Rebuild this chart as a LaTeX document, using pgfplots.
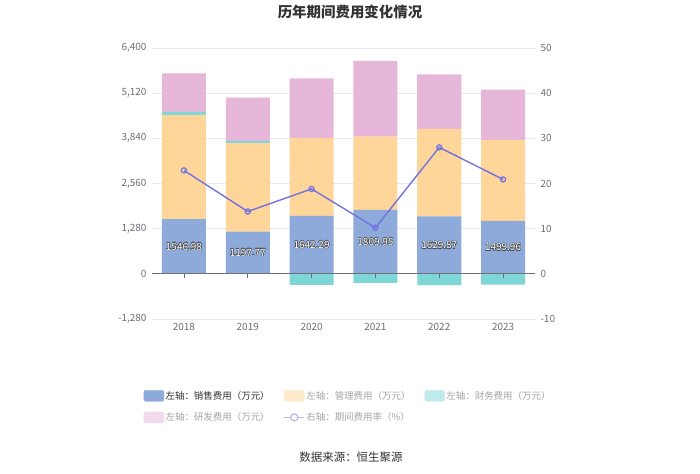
\documentclass[border=0pt]{standalone}
\usepackage{fontspec}
\setmainfont{Noto Sans CJK SC}
\usepackage{pgfplots}
\pgfplotsset{compat=1.18}
\definecolor{salesc}{HTML}{8DAADB}
\definecolor{adminc}{HTML}{FFD699}
\definecolor{finc}{HTML}{7ED7D6}
\definecolor{rdc}{HTML}{E7B7DA}
\definecolor{linec}{HTML}{7272E2}
\definecolor{gridc}{HTML}{E6E9F0}
\definecolor{tickc}{HTML}{6E7079}
\definecolor{axisc}{HTML}{6E7079}
\definecolor{legdark}{HTML}{333333}
\definecolor{leglight}{HTML}{A6A6A6}
\definecolor{adminl}{HTML}{FFEBCC}
\definecolor{finl}{HTML}{BFEBEA}
\definecolor{rdl}{HTML}{F3DBED}
\definecolor{linel}{HTML}{B8B8F0}
\definecolor{outc}{HTML}{4A4A4A}
\newcommand{\oc}[3]{\rlap{\kern#1\raise#2\hbox{\color{outc}#3}}}
\newcommand{\outl}[1]{\hbox{\oc{0.55pt}{0pt}{#1}\oc{-0.55pt}{0pt}{#1}\oc{0pt}{0.55pt}{#1}\oc{0pt}{-0.55pt}{#1}%
\oc{0.4pt}{0.4pt}{#1}\oc{-0.4pt}{0.4pt}{#1}\oc{0.4pt}{-0.4pt}{#1}\oc{-0.4pt}{-0.4pt}{#1}\color{white}#1}}

\begin{document}
\begin{tikzpicture}
\path[use as bounding box, fill=white] (0,0) rectangle (700bp,474bp);
\pgfplotsset{base/.style={at={(152bp,155bp)}, anchor=south west, scale only axis,
  width=383bp, height=271bp, xmin=-0.5, xmax=5.5}}
% main axis: stacked bars
\begin{axis}[base, ymin=-1280, ymax=6400, ybar stacked, bar width=44bp,
  axis y line*=left, axis x line*=bottom, axis line style={draw=none},
  major tick length=0,
  ytick={-1280,0,1280,2560,3840,5120,6400},
  scaled ticks=false,
  ymajorgrids, grid style={color=gridc, line width=0.8bp},
  xtick={0,1,2,3,4,5}, xticklabels={2018,2019,2020,2021,2022,2023},
  tick label style={font=\fontsize{10}{12}\selectfont, text=tickc},
  yticklabel style={xshift=-2bp},
  xticklabel style={yshift=-1bp},
  /pgf/number format/.cd, 1000 sep={,}, assume math mode=true]
\addplot[fill=salesc, draw=none] coordinates {(0,1546.98) (1,1197.77) (2,1642.29) (3,1809.95) (4,1629.87) (5,1499.96)};
\addplot[fill=adminc, draw=none] coordinates {(0,2956) (1,2503) (2,2201) (3,2079) (4,2476) (5,2295)};
\addplot[fill=finc, draw=none] coordinates {(0,85) (1,66) (2,0) (3,0) (4,0) (5,0)};
\addplot[fill=rdc, draw=none] coordinates {(0,1096) (1,1226) (2,1699) (3,2143) (4,1549) (5,1425)};
\end{axis}
% right axis: rate line
\begin{axis}[base, ymin=-10, ymax=50,
  axis y line*=right, axis x line=none, axis line style={draw=none},
  major tick length=0, ytick={-10,0,10,20,30,40,50},
  tick label style={font=\fontsize{10}{12}\selectfont, text=tickc},
  yticklabel style={xshift=2bp},
  /pgf/number format/.cd, assume math mode=true]
\addplot[color=linec, line width=1.4bp, mark=o, mark size=2.6bp,
  mark options={fill=white, line width=1.2bp}] coordinates {(0,22.9) (1,13.8) (2,18.8) (3,10.2) (4,28.0) (5,20.9)};
\end{axis}
% overlay axis: negative bars, labels, zero line, legend
\begin{axis}[base, ymin=-1280, ymax=6400, hide axis, clip=false,
  legend columns=3,
  legend style={draw=none, fill=none, at={(-0.03,-0.252)}, anchor=north west,
    font=\fontsize{9.5}{11}\selectfont, row sep=9bp,
    /tikz/every even column/.append style={column sep=12.5bp},
    nodes={inner sep=1.5bp}},
  legend cell align=left]
\addlegendimage{legend image code/.code={\fill[salesc, rounded corners=2bp] (0bp,-5.5bp) rectangle (20bp,5.5bp);}}
\addlegendentry{\textcolor{legdark}{左轴：销售费用（万元）}}
\addlegendimage{legend image code/.code={\fill[adminl, rounded corners=2bp] (0bp,-5.5bp) rectangle (20bp,5.5bp);}}
\addlegendentry{\textcolor{leglight}{左轴：管理费用（万元）}}
\addlegendimage{legend image code/.code={\fill[finl, rounded corners=2bp] (0bp,-5.5bp) rectangle (20bp,5.5bp);}}
\addlegendentry{\textcolor{leglight}{左轴：财务费用（万元）}}
\addlegendimage{legend image code/.code={\fill[rdl, rounded corners=2bp] (0bp,-5.5bp) rectangle (20bp,5.5bp);}}
\addlegendentry{\textcolor{leglight}{左轴：研发费用（万元）}}
\addlegendimage{legend image code/.code={\draw[linel, line width=1.2bp] (0bp,0bp) -- (20bp,0bp); \draw[linel, line width=1.2bp, fill=white] (10bp,0bp) circle (3.5bp);}}
\addlegendentry{\textcolor{leglight}{右轴：期间费用率（\%）}}
\addplot[ybar, bar width=44bp, fill=finc, draw=none, forget plot] coordinates {(0,0) (1,0) (2,-312) (3,-255) (4,-320) (5,-303)};
\draw[axisc, line width=0.8bp] (axis cs:-0.5,0) -- (axis cs:5.5,0);
\pgfplotsinvokeforeach{0,1,2,3,4,5}{\draw[axisc, line width=0.8bp] (axis cs:#1,0) -- ([yshift=-4bp]axis cs:#1,0);}
\addplot[only marks, mark=none, forget plot, nodes near coords={\outl{\pgfplotspointmeta}},
  point meta=explicit symbolic,
  every node near coord/.style={anchor=center, font=\fontsize{10}{12}\selectfont}]
  coordinates {(0,773.49)[1546.98] (1,598.89)[1197.77] (2,821.15)[1642.29] (3,904.98)[1809.95] (4,814.94)[1629.87] (5,749.98)[1499.96]};
\end{axis}
\node[font=\bfseries\fontsize{14.5}{16}\selectfont, text=legdark] at (350bp,462bp) {历年期间费用变化情况};
\node[font=\fontsize{11.5}{13}\selectfont, text=legdark] at (351bp,16.5bp) {数据来源：恒生聚源};
\end{tikzpicture}
\end{document}
